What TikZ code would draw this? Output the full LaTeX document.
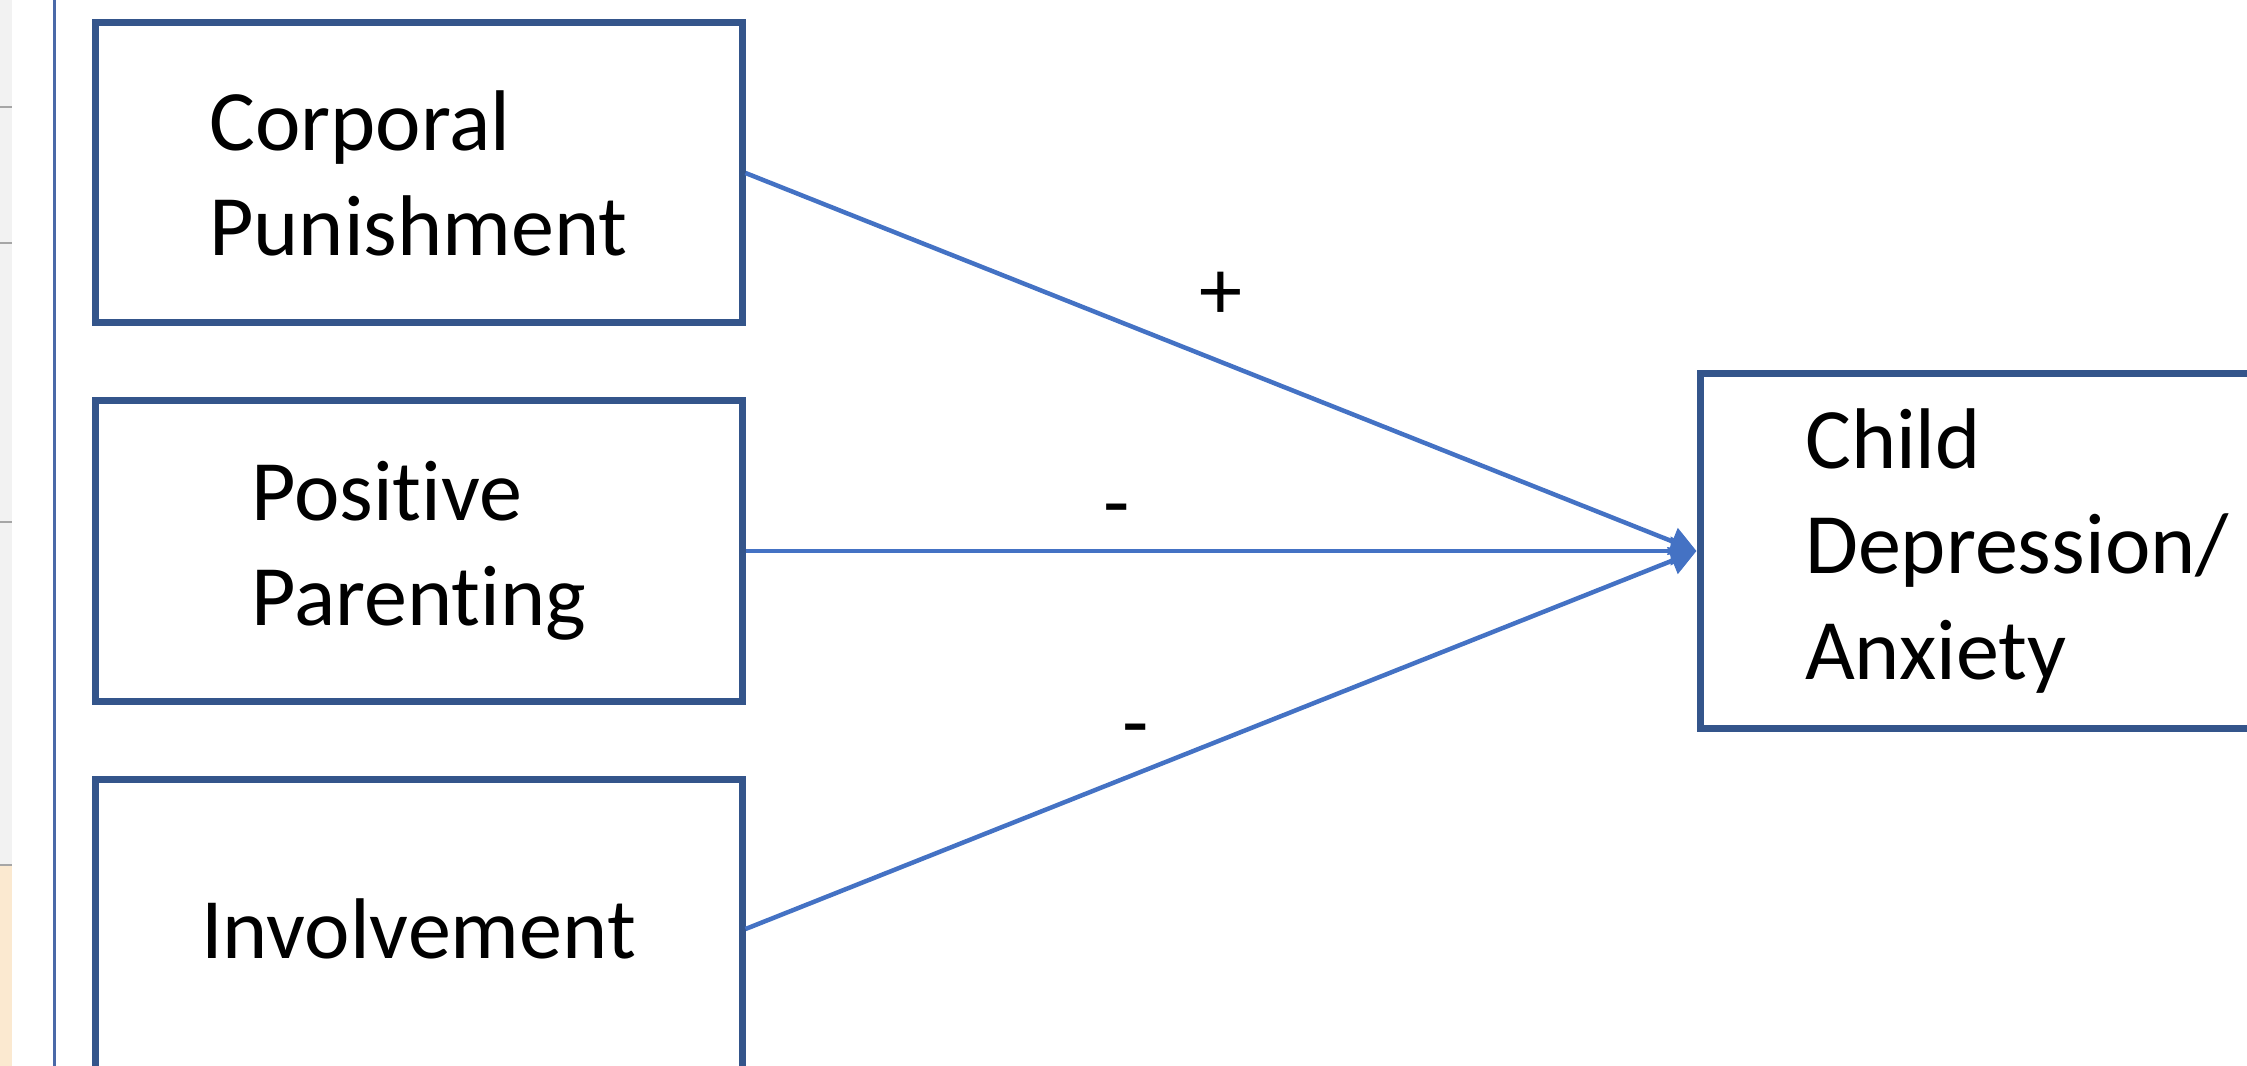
\documentclass[tikz,border=0pt]{standalone}
\usepackage{fontspec}
\setmainfont{Carlito}[Ligatures=NoCommon]
\usetikzlibrary{arrows.meta,positioning}
\definecolor{Frame}{HTML}{34558B}
\definecolor{Link}{HTML}{4472C4}
\definecolor{Pane}{HTML}{F2F2F2}
\definecolor{PaneRule}{HTML}{A6A6A6}
\definecolor{Peach}{HTML}{FBE9D0}
\definecolor{Divider}{HTML}{4A69A8}
\tikzset{
  box/.style={draw=Frame,line width=0.07cm,minimum width=6.47cm,minimum height=3cm,align=left,inner sep=0pt,font=\fontsize{24.5}{29.9}\selectfont},
  link/.style={-{Triangle[length=0.26cm,width=0.28cm]},line width=0.045cm,draw=Link},
  sign/.style={font=\fontsize{24.5}{29.9}\selectfont,inner sep=0pt}
}

\begin{document}
\begin{tikzpicture}[node distance=0.71cm]
  \useasboundingbox (0,0) rectangle (22.47,-10.66);
  \clip (0,0) rectangle (22.47,-10.66);
  % window edge on the left
  \fill[Pane] (0,0) rectangle (0.12,-10.66);
  \fill[Peach] (0,-8.65) rectangle (0.12,-10.66);
  \foreach \y in {1.07,2.43,5.22,8.65}
    \draw[PaneRule,line width=0.02cm] (0,-\y) -- (0.12,-\y);
  \draw[Divider,line width=0.03cm] (0.545,0) -- (0.545,-10.66);

  \node[box] (corporal) at (4.185,-1.73) {Corporal\\Punishment};
  \node[box,below=of corporal] (positive) {Positive\\Parenting};
  \node[box,below=of positive] (involvement) {Involvement};
  \node[box,minimum width=6.34cm,minimum height=3.55cm,right=9.51cm of positive] (child) {Child\\Depression/\\Anxiety};

  \draw[link] (corporal.east) -- node[sign,pos=0.5,above=0.4cm]{+} (child.west);
  \draw[link] (positive.east) -- node[sign,pos=0.39,above=0.17cm]{-} (child.west);
  \draw[link] (involvement.east) -- node[sign,pos=0.41,above=0.2cm]{-} (child.west);
\end{tikzpicture}
\end{document}
